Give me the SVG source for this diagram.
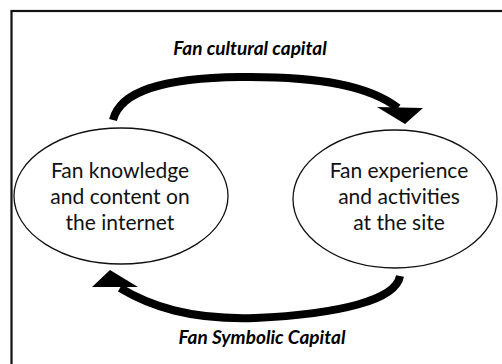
<svg xmlns="http://www.w3.org/2000/svg" width="502" height="364" viewBox="0 0 502 364">
  <style>
    .frame { fill: none; stroke: #111; stroke-width: 2.2; }
    .node ellipse { fill: #fff; stroke: #111; stroke-width: 1.3; }
    .node text { font-family: Lato, "Open Sans", sans-serif; font-size: 21px; fill: #111; text-anchor: middle; }
    .shaft { fill: none; stroke: #000; stroke-width: 8; stroke-linecap: butt; }
    .head { fill: #000; }
    .label { font-family: Lato, "Open Sans", sans-serif; font-size: 19px; font-weight: bold; font-style: italic; fill: #000; text-anchor: middle; }
  </style>

  <rect width="502" height="364" fill="#fff"/>
  <!-- outer frame, open past the right and bottom edges -->
  <rect class="frame" x="11.5" y="11" width="510" height="370"/>

  <g id="node-internet" class="node">
    <ellipse cx="121" cy="196" rx="107" ry="68"/>
    <text x="120" y="178">Fan knowledge</text>
    <text x="120" y="204">and content on</text>
    <text x="120" y="230">the internet</text>
  </g>

  <g id="node-site" class="node">
    <ellipse cx="395" cy="199" rx="102" ry="69"/>
    <text x="399" y="178">Fan experience</text>
    <text x="399" y="204">and activities</text>
    <text x="399" y="230">at the site</text>
  </g>

  <g id="connectors">
    <!-- cultural capital: internet -> site -->
    <path class="shaft" d="M113,120 C120,92 160,78 240,77 C320,76 370,86 398,108"/>
    <polygon class="head" points="377,107 423,108 405,124"/>
    <!-- symbolic capital: site -> internet -->
    <path class="shaft" d="M400,276 C396,300 340,314 255,318 C190,320 150,306 120,288"/>
    <polygon class="head" points="92,287 138,287 110,270"/>
  </g>

  <text class="label" x="250" y="55">Fan cultural capital</text>
  <text class="label" x="262" y="344">Fan Symbolic Capital</text>
</svg>
